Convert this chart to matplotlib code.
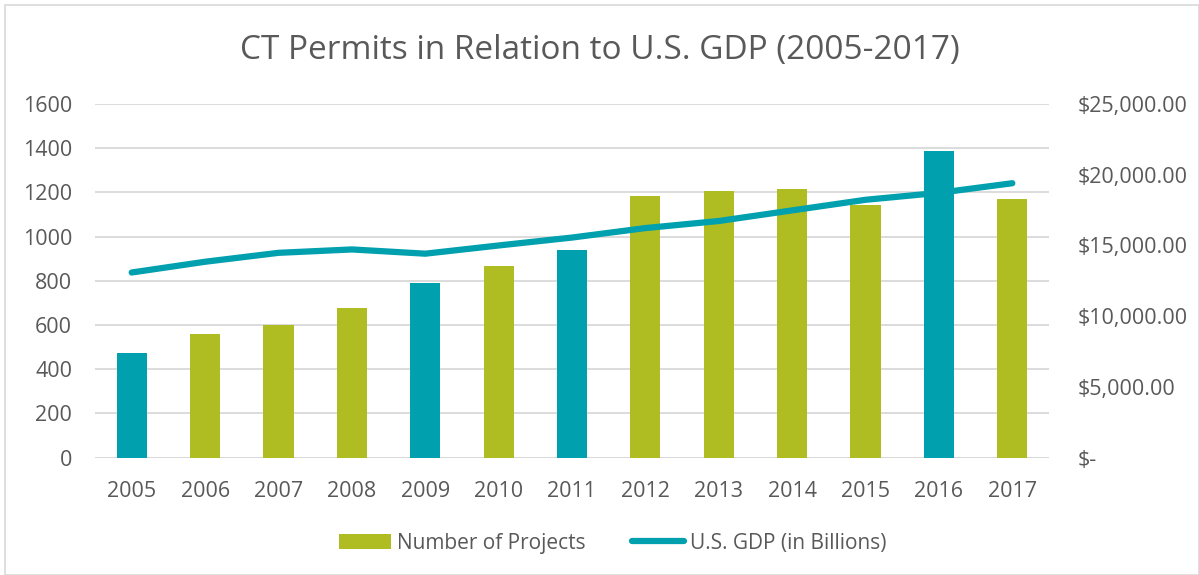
import matplotlib
matplotlib.use("Agg")
import matplotlib.pyplot as plt
from matplotlib.patches import Rectangle, Patch
from matplotlib.lines import Line2D
from matplotlib.ticker import FuncFormatter

years = ["2005", "2006", "2007", "2008", "2009", "2010", "2011",
         "2012", "2013", "2014", "2015", "2016", "2017"]
projects = [475, 560, 600, 675, 790, 865, 940, 1185, 1205, 1217, 1142, 1388, 1169]
gdp = [13090, 13850, 14480, 14720, 14420, 15000, 15560, 16230, 16730, 17480, 18230, 18720, 19400]
highlight_years = ["2005", "2009", "2011", "2016"]

TEAL = "#00A0AE"
OLIVE = "#AFBD22"
TXT = "#595959"
GRID = "#D9D9D9"

plt.rcParams['font.family'] = ['Open Sans', 'DejaVu Sans']

fig = plt.figure(figsize=(11.99, 5.75), dpi=100)
ax = fig.add_axes([95/1199, 1-457.7/575, (1049-95)/1199, (457.7-104)/575])
ax2 = ax.twinx()

x = list(range(len(years)))
colors = [TEAL if y in highlight_years else OLIVE for y in years]
ax.bar(x, projects, width=0.41, color=colors, zorder=2)
ax2.plot(x, gdp, color=TEAL, lw=4.5, solid_capstyle='round', solid_joinstyle='round', zorder=3)

ax.set_xlim(-0.5, 12.5)
ax.set_ylim(0, 1600)
ax.set_yticks(range(0, 1601, 200))
ax2.set_ylim(0, 25000)
ax2.set_yticks(range(0, 25001, 5000))

def fmt(v, pos):
    if v == 0:
        return "$-"
    return "${:,.2f}".format(v)
ax2.yaxis.set_major_formatter(FuncFormatter(fmt))

ax.set_xticks(x)
ax.set_xticklabels(years)
ax.grid(axis='y', color=GRID, lw=1.3, zorder=0)
ax.set_axisbelow(True)
for a in (ax, ax2):
    for s in a.spines.values():
        s.set_visible(False)
ax.tick_params(axis='both', length=0, labelsize=15.5, colors=TXT)
ax.tick_params(axis='y', pad=16.5)
ax.tick_params(axis='x', pad=16.5)
ax2.tick_params(axis='y', length=0, labelsize=15.5, colors=TXT, pad=20.5)
for lab in ax2.get_yticklabels():
    lab.set_horizontalalignment('left')

ax.axhline(0, color=GRID, lw=1.3, zorder=1)

fig.text(0.5, 1-50/575, "CT Permits in Relation to U.S. GDP (2005-2017)",
         ha='center', va='center', fontsize=24, color=TXT)

handles = [Patch(facecolor=OLIVE, edgecolor='none', label="Number of Projects"),
           Line2D([0], [0], color=TEAL, lw=4.5, solid_capstyle='round', label="U.S. GDP (in Billions)")]
fig.legend(handles=handles, loc='center', bbox_to_anchor=(0.511, 1-543/575), ncol=2,
           frameon=False, fontsize=15, labelcolor=TXT, handlelength=2.5,
           handletextpad=0.3, columnspacing=2.2)

fig.add_artist(Rectangle((5/1199, 0), 1 - 5/1199, 1 - 5/575, transform=fig.transFigure,
                         fill=False, edgecolor=GRID, lw=1.2))

fig.savefig("out.png", dpi=100)
